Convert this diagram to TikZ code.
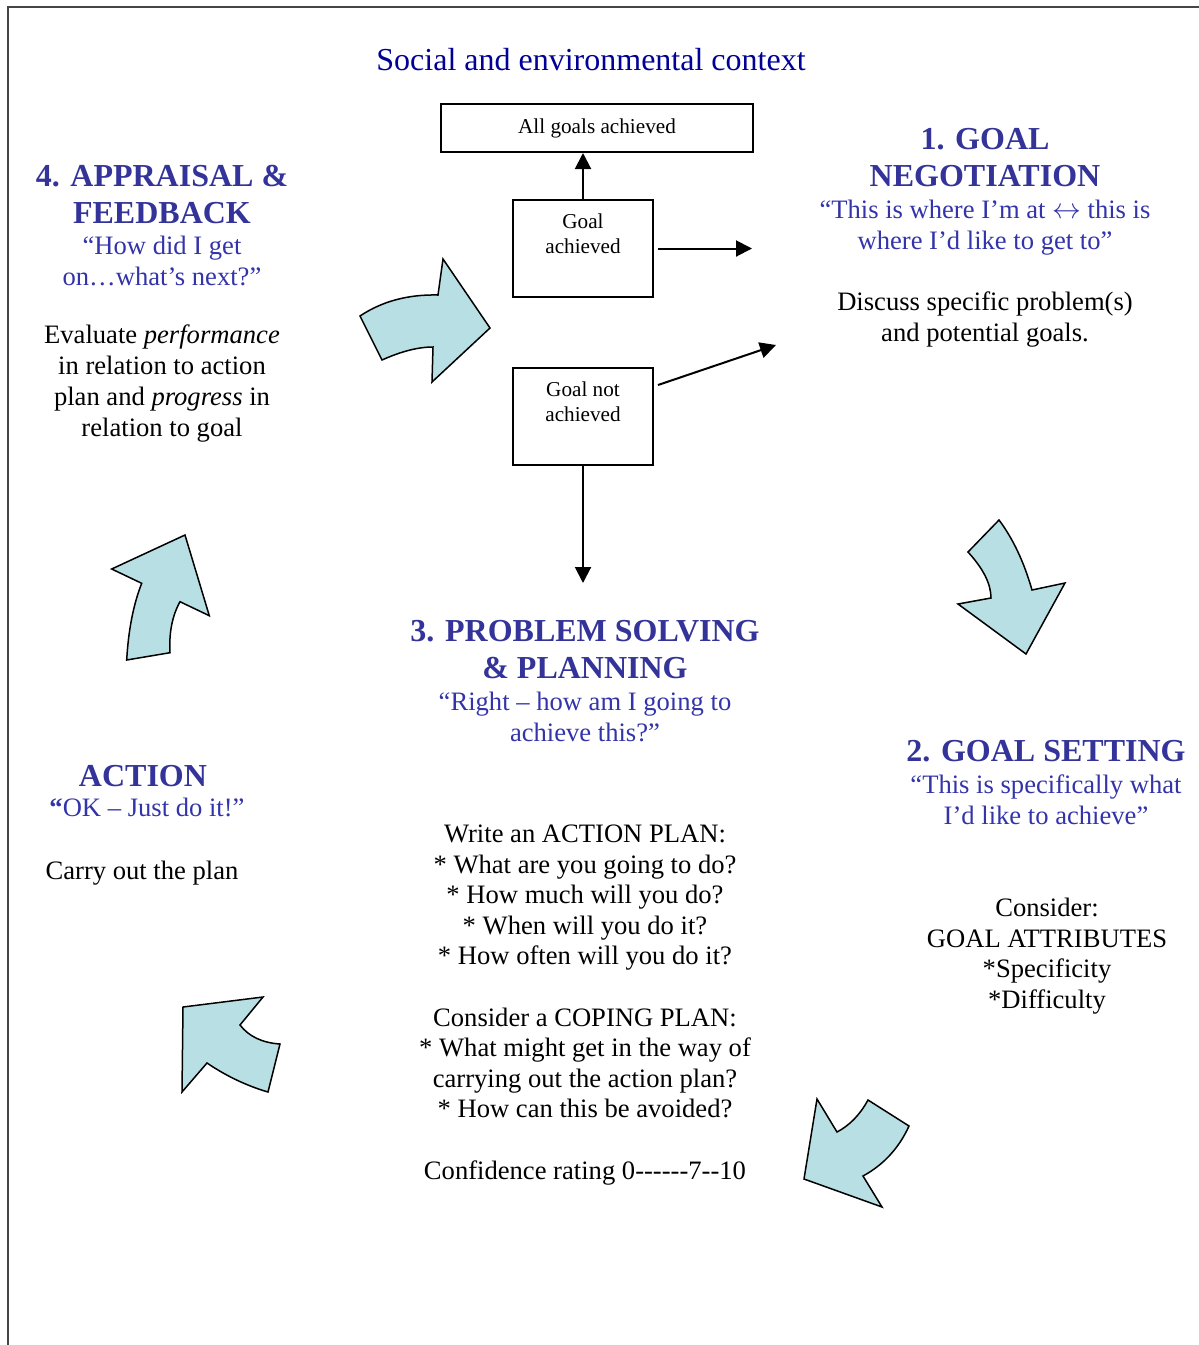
\documentclass[tikz,border=0pt]{standalone}
\usepackage{fontspec}
\setmainfont{Liberation Serif}[Ligatures=TeXOff]
\usetikzlibrary{arrows.meta,calc}
\definecolor{headblue}{RGB}{51,51,153}
\definecolor{quoteblue}{RGB}{51,51,170}
\definecolor{titleblue}{RGB}{0,0,150}
\definecolor{arrowfill}{RGB}{184,223,227}
\definecolor{framegray}{RGB}{70,70,70}
\begin{document}
\begin{tikzpicture}[x=0.5pt,y=-0.5pt,
  heading/.style={anchor=north,inner sep=0pt,align=center,text=headblue,font=\fontsize{16}{18.5}\selectfont\bfseries},
  quote/.style={anchor=north,inner sep=0pt,align=center,text=quoteblue,font=\fontsize{13.3}{15.4}\selectfont},
  body/.style={anchor=north,inner sep=0pt,align=center,text=black,font=\fontsize{13.3}{15.3}\selectfont},
  box/.style={draw,line width=1pt,minimum width=70pt,minimum height=48.5pt,inner sep=0pt,align=center,font=\fontsize{10.6}{12.5}\selectfont},
  arr/.style={line width=1pt,-{Triangle[length=8pt,width=8pt]}},
  blockarrow/.style={draw,line width=0.75pt,fill=arrowfill,line join=miter}]
\useasboundingbox (0,0) rectangle (1199,1345);
% frame
\draw[framegray,line width=1pt] (8,1345) -- (8,7) -- (1199,7);
% title
\node[text=titleblue,font=\fontsize{16}{18.5}\selectfont,inner sep=0pt] (title) at (591,60) {Social and environmental context};
% boxes
\node[box,minimum width=156pt,minimum height=24pt] (all) at (597,128) {All goals achieved};
\node[box] (ga) at (583,248.5) {\strut Goal\\\strut achieved\\\strut};
\node[box] (gna) at (583,416.5) {\strut Goal not\\\strut achieved\\\strut};
\coordinate (c1) at (752,248.5);
\coordinate (c2) at (776,345);
\coordinate (c3) at (583,583);
\draw[arr] (ga.north) -- (ga.north |- all.south);
\draw[arr] ([xshift=2pt]ga.east) -- (c1);
\draw[arr] ([xshift=2pt,yshift=15.75pt]gna.east) -- (c2);
\draw[arr] (gna.south) -- (c3);
% 1. goal negotiation
\node[heading] (h1) at (985,122.7) {\strut 1. GOAL\\NEGOTIATION};
\node[quote] (q1) at (985,196.4) {\strut “This is where I’m at $\leftrightarrow$ this is\\where I’d like to get to”};
\node[body] (b1) at (985,288.6) {\strut Discuss specific problem(s)\\and potential goals.};
% 4. appraisal
\node[heading] (h4) at (162,159.7) {\strut 4. APPRAISAL \&\\FEEDBACK};
\node[quote] (q4) at (162,232.4) {\strut “How did I get\\on…what’s next?”};
\node[body,font=\fontsize{13.3}{15.5}\selectfont] (b4) at (162,321.6) {\strut Evaluate \textit{performance}\\in relation to action\\plan and \textit{progress} in\\relation to goal};
% 3. problem solving
\node[heading] (h3) at (585,614.7) {\strut 3. PROBLEM SOLVING\\\& PLANNING};
\node[quote] (q3) at (585,688.4) {\strut “Right – how am I going to\\achieve this?”};
\node[body] (b3) at (585,820.6) {\strut Write an ACTION PLAN:\\* What are you going to do?\\* How much will you do?\\* When will you do it?\\* How often will you do it?\\[15.3pt]Consider a COPING PLAN:\\* What might get in the way of\\carrying out the action plan?\\* How can this be avoided?\\[15.3pt]Confidence rating 0------7--10};
% 2. goal setting
\node[heading] (h2) at (1046,734.7) {\strut 2. GOAL SETTING};
\node[quote] (q2) at (1046,771.4) {\strut “This is specifically what\\I’d like to achieve”};
\node[body] (b2) at (1047,894.6) {\strut Consider:\\GOAL ATTRIBUTES\\*Specificity\\*Difficulty};
% action
\node[heading] (hA) at (143,759.7) {\strut ACTION};
\node[quote] (qA) at (147,794.4) {\strut \textbf{“}OK – Just do it!”};
\node[body] (bA) at (142,857.6) {\strut Carry out the plan};
% block arrows
% top-left, pointing right
\path[blockarrow] (360,316) -- (382,360) .. controls (401.3,351.3) and (418.3,347) .. (433,347)
  -- (432,382) -- (490,328) -- (443,259) -- (438,295)
  .. controls (408,294.3) and (382,301.3) .. (360,316) -- cycle;
% right, pointing down
\path[blockarrow] (999,520) -- (968,552) .. controls (983.3,568.7) and (991,584) .. (991,598)
  -- (958,604) -- (1026,654) -- (1065,583) -- (1032,590)
  .. controls (1024,562) and (1013,538.7) .. (999,520) -- cycle;
% bottom-right, pointing down-left
\path[blockarrow] (817,1099) -- (837,1132) .. controls (849.7,1125.3) and (860,1114.7) .. (868,1100)
  -- (909,1126) .. controls (899,1148) and (883.7,1164.7) .. (863,1176)
  -- (882,1207) -- (804,1179) -- cycle;
% bottom-left, pointing up-left
\path[blockarrow] (183,1007) -- (263,997) -- (240,1025) .. controls (248.9,1036.5) and (262.2,1042.8) .. (280,1044)
  -- (268,1092) .. controls (246.5,1085.7) and (226.2,1076) .. (207,1063)
  -- (182,1092) -- cycle;
% left, pointing up
\path[blockarrow] (185,535) -- (111.7,569) -- (141.7,583.3) .. controls (133.4,604.4) and (128.4,630) .. (126.7,660)
  -- (170,652.7) .. controls (168.9,632.8) and (172.2,615.8) .. (180,601.7)
  -- (209.3,615.7) -- cycle;
\end{tikzpicture}
\end{document}
